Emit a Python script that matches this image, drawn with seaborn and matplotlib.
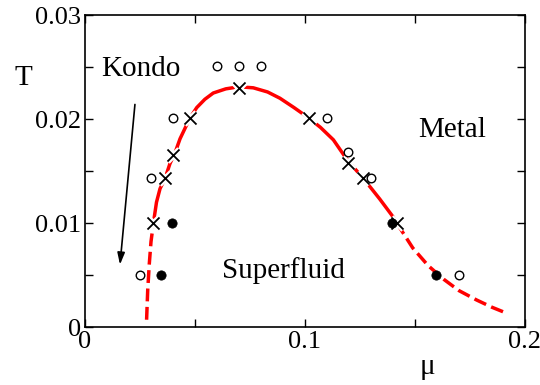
import matplotlib
matplotlib.use("Agg")
import matplotlib.pyplot as plt
import seaborn as sns
import pandas as pd
from matplotlib.ticker import MultipleLocator

# ---- data ----
open_mu = [0.025, 0.030, 0.040, 0.060, 0.070, 0.080, 0.110, 0.1195, 0.130, 0.170]
open_T = [0.0050, 0.0143, 0.0201, 0.0251, 0.0251, 0.0251, 0.0201, 0.0168, 0.0143, 0.0050]

cross_mu = [0.0311, 0.0364, 0.0402, 0.0477, 0.0700, 0.1017, 0.1194, 0.1265, 0.1417]
cross_T = [0.0100, 0.0143, 0.0165, 0.0201, 0.0230, 0.0201, 0.0158, 0.0143, 0.0100]

filled_mu = [0.0345, 0.0397, 0.1394, 0.1595]
filled_T = [0.0050, 0.0100, 0.0100, 0.0050]

# boundary curve (solid part) and dashed extrapolations
solid_mu = [0.0311, 0.0325, 0.0341, 0.0364, 0.0386, 0.0410, 0.0432, 0.0477, 0.0508,
            0.0545, 0.0583, 0.0640, 0.0700, 0.0765, 0.0830, 0.0886, 0.0950, 0.1017,
            0.1070, 0.1129, 0.1194, 0.1265, 0.1340, 0.1400, 0.1417]
solid_T = [0.0100, 0.0120, 0.0133, 0.0143, 0.0157, 0.0168, 0.0181, 0.0201, 0.0211,
           0.0219, 0.0225, 0.0229, 0.0231, 0.0230, 0.0226, 0.0220, 0.0211, 0.0201,
           0.0192, 0.0180, 0.0160, 0.0143, 0.0123, 0.0106, 0.0100]
dash_left_mu = [0.0280, 0.0285, 0.0292, 0.0300, 0.0311]
dash_left_T = [0.0007, 0.0035, 0.0060, 0.0082, 0.0100]
dash_right_mu = [0.1417, 0.1490, 0.1560, 0.1630, 0.1700, 0.1780, 0.1850, 0.1920]
dash_right_T = [0.0100, 0.0076, 0.0059, 0.0046, 0.0035, 0.0026, 0.0019, 0.0013]

x_ticks = [0, 0.1, 0.2]
x_ticklabels = ["0", "0.1", "0.2"]
y_ticks = [0, 0.01, 0.02, 0.03]
y_ticklabels = ["0", "0.01", "0.02", "0.03"]

sns.set_style("ticks")
plt.rcParams['font.family'] = ['Liberation Serif', 'DejaVu Serif']
plt.rcParams['text.color'] = 'black'

fig = plt.figure(figsize=(5.4, 3.85), dpi=100)
ax = fig.add_axes([0.1574, 0.1506, 0.9722 - 0.1574, 0.961 - 0.1506])

red = "#ff0000"
sns.lineplot(data=pd.DataFrame({"mu": solid_mu, "T": solid_T}), x="mu", y="T",
             sort=False, color=red, lw=2.5, ax=ax, zorder=2)
sns.lineplot(data=pd.DataFrame({"mu": dash_left_mu, "T": dash_left_T}), x="mu", y="T",
             sort=False, color=red, lw=2.5, ax=ax, zorder=2, dashes=(4, 2.2), linestyle="--")
sns.lineplot(data=pd.DataFrame({"mu": dash_right_mu, "T": dash_right_T}), x="mu", y="T",
             sort=False, color=red, lw=2.5, ax=ax, zorder=2, dashes=(4, 2.5), linestyle="--")

# crosses with white halo
sns.scatterplot(x=cross_mu, y=cross_T, marker="x", s=75, color="white",
                linewidth=4.5, ax=ax, zorder=3)
sns.scatterplot(x=cross_mu, y=cross_T, marker="x", s=75, color="black",
                linewidth=1.3, ax=ax, zorder=4)
sns.scatterplot(x=open_mu, y=open_T, marker="o", s=38, facecolor="white",
                edgecolor="black", linewidth=1.0, ax=ax, zorder=5)
sns.scatterplot(x=filled_mu, y=filled_T, marker="o", s=45, color="black",
                edgecolor="black", linewidth=0.5, ax=ax, zorder=5)

ax.set_xlim(0, 0.2)
ax.set_ylim(0, 0.03)
ax.set_xticks(x_ticks)
ax.set_xticklabels(x_ticklabels)
ax.set_yticks(y_ticks)
ax.set_yticklabels(y_ticklabels)
ax.xaxis.set_minor_locator(MultipleLocator(0.05))
ax.yaxis.set_minor_locator(MultipleLocator(0.005))
ax.tick_params(which="both", direction="in", top=True, right=True, length=6,
               width=1.0, labelsize=19, pad=3, color="black", labelcolor="black")
for sp in ax.spines.values():
    sp.set_visible(True)
    sp.set_linewidth(1.2)
    sp.set_color("black")
ax.set_xlabel("")
ax.set_ylabel("")

fig.text(23 / 540, 1 - 78 / 385, "T", fontsize=21, ha="center", va="center", color="black")
fig.text(427 / 540, 1 - 367 / 385, "μ", fontsize=21, ha="center", va="center", color="black")

ax.text(0.0075, 0.0241, "Kondo", fontsize=21, ha="left", va="baseline", color="black")
ax.text(0.1514, 0.0183, "Metal", fontsize=21, ha="left", va="baseline", color="black")
ax.text(0.0621, 0.0047, "Superfluid", fontsize=21, ha="left", va="baseline", color="black")

ax.annotate("", xy=(0.0159, 0.0060), xytext=(0.0227, 0.0214),
            arrowprops=dict(arrowstyle="-|>,head_length=0.7,head_width=0.22",
                            color="black", lw=1.2, shrinkA=0, shrinkB=0))

fig.savefig("out.png", dpi=100)
